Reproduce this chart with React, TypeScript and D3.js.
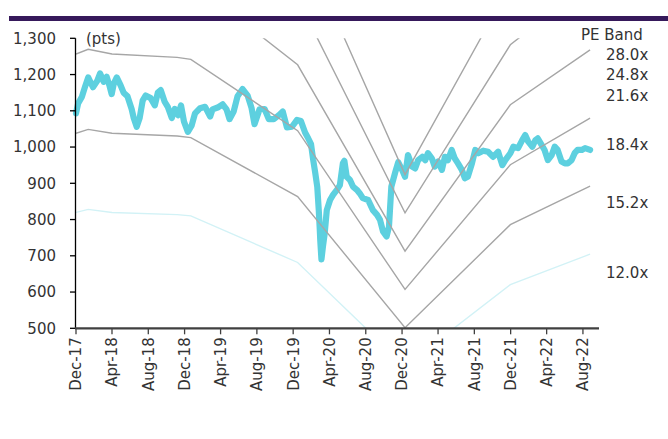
import * as React from 'react';
import * as d3 from 'd3';

// forward EPS path (pts), read back from where the PE band lines sit
const epsDates = ['2017-12-01', '2018-01-11', '2018-04-01', '2018-11-06', '2018-12-22', '2019-12-16', '2020-12-11', '2021-11-30', '2022-08-25'];
const epsValues = [68.3, 69.0, 68.3, 67.8, 67.5, 56.8, 33.0, 51.7, 58.7];

const multiples = [12.0, 15.2, 18.4, 21.6, 24.8, 28.0];
const bandLabels = ['12.0x', '15.2x', '18.4x', '21.6x', '24.8x', '28.0x'];
// where each band label sits on the value axis
const bandLabelAt = [653, 846, 1008, 1143, 1199, 1254];

const yTicks = [500, 600, 700, 800, 900, 1000, 1100, 1200, 1300];

const indexSeries: [string, number][] = [
    ['2017-12-01', 1093], ['2017-12-08', 1120], ['2017-12-21', 1139], ['2018-01-01', 1168],
    ['2018-01-11', 1192], ['2018-01-27', 1165], ['2018-02-10', 1182], ['2018-02-20', 1203],
    ['2018-03-04', 1180], ['2018-03-14', 1194], ['2018-03-24', 1168], ['2018-03-31', 1146],
    ['2018-04-07', 1175], ['2018-04-17', 1192], ['2018-04-30', 1170], ['2018-05-10', 1150],
    ['2018-05-23', 1140], ['2018-06-06', 1105], ['2018-06-13', 1080], ['2018-06-23', 1056],
    ['2018-07-03', 1080], ['2018-07-13', 1128], ['2018-07-23', 1142], ['2018-08-09', 1135],
    ['2018-08-23', 1115], ['2018-09-02', 1150], ['2018-09-12', 1157], ['2018-09-25', 1125],
    ['2018-10-06', 1110], ['2018-10-19', 1080], ['2018-10-29', 1105], ['2018-11-09', 1088],
    ['2018-11-19', 1115], ['2018-11-29', 1070], ['2018-12-12', 1042], ['2018-12-25', 1060],
    ['2019-01-05', 1093], ['2019-01-22', 1107], ['2019-02-08', 1111], ['2019-02-25', 1084],
    ['2019-03-05', 1104], ['2019-03-22', 1109], ['2019-04-08', 1118], ['2019-04-21', 1104],
    ['2019-05-01', 1077], ['2019-05-15', 1098], ['2019-05-28', 1140], ['2019-06-14', 1160],
    ['2019-07-01', 1142], ['2019-07-14', 1108], ['2019-07-24', 1063], ['2019-08-10', 1104],
    ['2019-08-27', 1105], ['2019-09-10', 1077], ['2019-09-27', 1077], ['2019-10-14', 1088],
    ['2019-10-27', 1098], ['2019-11-10', 1054], ['2019-11-27', 1056], ['2019-12-14', 1075],
    ['2019-12-27', 1072], ['2020-01-10', 1040], ['2020-01-20', 1025], ['2020-01-30', 1008],
    ['2020-02-06', 966], ['2020-02-13', 930], ['2020-02-20', 890], ['2020-02-25', 826],
    ['2020-02-28', 780], ['2020-03-01', 744], ['2020-03-05', 690], ['2020-03-10', 725],
    ['2020-03-16', 762], ['2020-03-23', 826], ['2020-04-03', 854], ['2020-04-13', 868],
    ['2020-04-26', 882], ['2020-05-06', 895], ['2020-05-16', 955], ['2020-05-21', 962],
    ['2020-05-29', 918], ['2020-06-09', 909], ['2020-06-19', 891], ['2020-07-02', 882],
    ['2020-07-12', 872], ['2020-07-22', 859], ['2020-08-09', 854], ['2020-08-25', 826],
    ['2020-09-08', 813], ['2020-09-18', 799], ['2020-09-28', 767], ['2020-10-10', 753],
    ['2020-10-18', 780], ['2020-10-26', 891], ['2020-11-08', 930], ['2020-11-18', 958],
    ['2020-12-01', 937], ['2020-12-11', 918], ['2020-12-21', 978], ['2021-01-04', 946],
    ['2021-01-14', 941], ['2021-01-24', 964], ['2021-02-07', 973], ['2021-02-17', 964],
    ['2021-02-26', 983], ['2021-03-11', 969], ['2021-03-21', 946], ['2021-04-01', 960],
    ['2021-04-14', 937], ['2021-04-24', 973], ['2021-05-04', 964], ['2021-05-17', 992],
    ['2021-05-27', 969], ['2021-06-07', 955], ['2021-06-20', 937], ['2021-06-30', 914],
    ['2021-07-10', 918], ['2021-07-24', 955], ['2021-08-04', 992], ['2021-08-14', 983],
    ['2021-08-31', 990], ['2021-09-16', 987], ['2021-10-03', 973], ['2021-10-20', 987],
    ['2021-11-03', 950], ['2021-11-13', 964], ['2021-11-30', 983], ['2021-12-10', 1001],
    ['2021-12-26', 997], ['2022-01-09', 1019], ['2022-01-19', 1033], ['2022-01-29', 1015],
    ['2022-02-12', 1001], ['2022-02-22', 1019], ['2022-03-02', 1024], ['2022-03-15', 1006],
    ['2022-03-25', 992], ['2022-04-05', 964], ['2022-04-18', 978], ['2022-04-28', 1001],
    ['2022-05-08', 992], ['2022-05-21', 960], ['2022-06-01', 955], ['2022-06-11', 955],
    ['2022-06-24', 964], ['2022-07-04', 983], ['2022-07-14', 992], ['2022-07-28', 992],
    ['2022-08-08', 997], ['2022-08-25', 992],
];

const W = 668;
const H = 439;
const FONT = '"DejaVu Sans", sans-serif';
const TXT = '#333';

const parse = d3.timeParse('%Y-%m-%d');

export default function App() {
    const x = d3.scaleTime()
        .domain([parse('2017-12-01') as Date, parse('2022-09-24') as Date])
        .range([76, 599]);
    const y = d3.scaleLinear().domain([500, 1300]).range([328.3, 38.3]);

    const xTicks = d3.range(0, 57, 4).map((i: number) => d3.timeMonth.offset(parse('2017-12-01') as Date, i));
    const fmtX = d3.timeFormat('%b-%y');
    const fmtY = d3.format(',');

    const eps = epsDates.map((d, i) => ({ date: parse(d) as Date, v: epsValues[i] }));
    const idx = indexSeries.map(d => ({ date: parse(d[0]) as Date, v: d[1] }));

    const idxLine = d3.line<{ date: Date; v: number }>()
        .x(d => x(d.date))
        .y(d => y(d.v));

    const bandLine = (m: number) => d3.line<{ date: Date; v: number }>()
        .x(d => x(d.date))
        .y(d => y(d.v * m))(eps) || '';

    return (
        <svg width={W} height={H} style={{ position: 'absolute', left: 0, top: 0, background: '#fff' }}>
            <defs>
                <clipPath id="plot">
                    <rect x={76} y={y(1300)} width={523} height={y(500) - y(1300)} />
                </clipPath>
            </defs>
            <rect x={9} y={16} width={659} height={5} fill="#36195b" />

            {/* index */}
            <path d={idxLine(idx) || ''} fill="none" stroke="#5dd0df" strokeWidth={6.2}
                strokeLinejoin="round" strokeLinecap="round" />

            {/* PE bands */}
            <g clipPath="url(#plot)">
                {multiples.map((m, i) => (
                    <path key={m} d={bandLine(m)} fill="none"
                        stroke={i === 0 ? '#d2f2f6' : '#a6a6a6'} strokeWidth={1.4} />
                ))}
            </g>

            {/* y axis */}
            <line x1={75.5} x2={75.5} y1={y(1300)} y2={y(500)} stroke="#000" strokeWidth={1.3} />
            {yTicks.map(t => (
                <g key={t}>
                    <line x1={70} x2={75.5} y1={y(t)} y2={y(t)} stroke="#000" strokeWidth={1.3} />
                    <text x={56} y={y(t)} dy="0.36em" textAnchor="end" fontFamily={FONT}
                        fontSize={15} fill={TXT}>{fmtY(t)}</text>
                </g>
            ))}
            <text x={86} y={y(1300)} dy="0.36em" fontFamily={FONT} fontSize={15} fill={TXT}>(pts)</text>

            {/* x axis */}
            <line x1={75} x2={599} y1={y(500)} y2={y(500)} stroke="#404040" strokeWidth={2.2} />
            {xTicks.map(t => (
                <g key={t.getTime()} transform={`translate(${x(t)},${y(500)})`}>
                    <line y1={0} y2={6} stroke="#404040" strokeWidth={1.3} />
                    <text transform="rotate(-90)" x={-9} dy="0.36em" textAnchor="end"
                        fontFamily={FONT} fontSize={15} fill={TXT}>{fmtX(t)}</text>
                </g>
            ))}

            {/* band labels */}
            <text x={581} y={35} dy="0.36em" fontFamily={FONT} fontSize={15} fill={TXT}>PE Band</text>
            {bandLabels.map((l, i) => (
                <text key={l} x={606} y={y(bandLabelAt[i])} dy="0.36em" fontFamily={FONT}
                    fontSize={15} fill={TXT}>{l}</text>
            ))}
        </svg>
    );
}
